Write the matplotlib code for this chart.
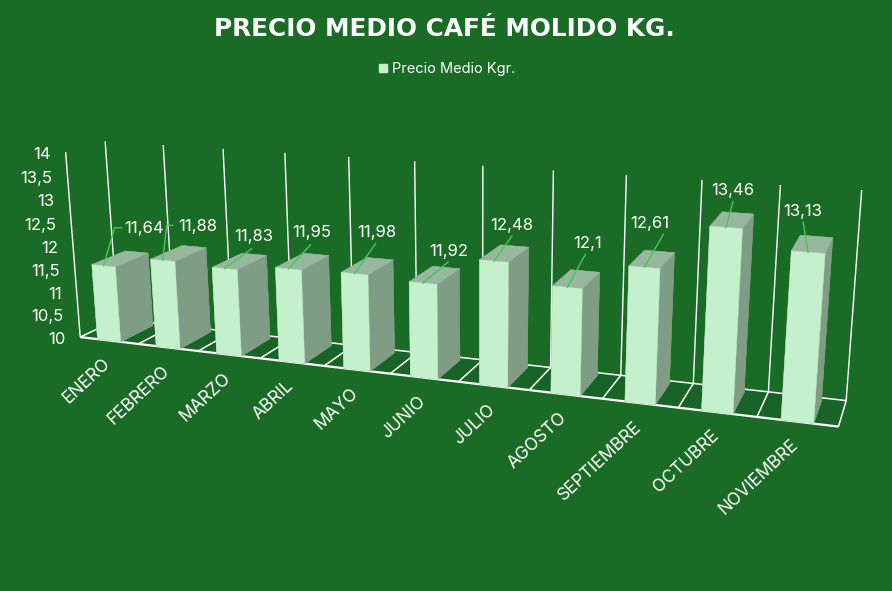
import numpy as np
import matplotlib
matplotlib.use("Agg")
import matplotlib.pyplot as plt
from matplotlib.transforms import Affine2D
from matplotlib.lines import Line2D
from matplotlib.patches import Rectangle
from mpl_toolkits.mplot3d.art3d import Line3DCollection

months = ["ENERO", "FEBRERO", "MARZO", "ABRIL", "MAYO", "JUNIO", "JULIO",
          "AGOSTO", "SEPTIEMBRE", "OCTUBRE", "NOVIEMBRE"]
prices = [11.64, 11.88, 11.83, 11.95, 11.98, 11.92, 12.48, 12.1, 12.61, 13.46, 13.13]
price_labels = ["11,64", "11,88", "11,83", "11,95", "11,98", "11,92", "12,48", "12,1", "12,61", "13,46", "13,13"]
z_ticks = [10, 10.5, 11, 11.5, 12, 12.5, 13, 13.5, 14]
z_tick_labels = ["10", "10,5", "11", "11,5", "12", "12,5", "13", "13,5", "14"]

# Leader-line end offsets from bar top (pixels) and elbow-tail lengths
leader_dx = [11, 4, 27, 22, 21, 25, 18, 18, 19, 7, -5]
leader_dy = [-38, -35, -20, -24, -30, -21, -25, -33, -33, -26, -30]
tail = [7, 6, 0, 0, 0, 0, 0, 0, 0, 0, 0]
label_dx = [30, 31, 2, 1, 1, 1, 0, 2, -14, 0, 0]
label_dy = [1, 1, -12, -12, -11, -11, -11, -11, -11, -11, -11]

BG = "#1A6B25"
FLOOR = "#176426"
FRONT = "#C4F0CB"
TOP = "#97B89E"
SIDE = "#7F9C84"
LEADER = "#46C85A"
FONT = "Inter"
W, H = 892, 591

# Camera calibration: scene (category, depth, price) <-> image pixel
calib = [
    (0, 0, 10, 79, 337.5), (11, 0, 10, 838.7, 427), (11, 1, 10, 846, 400.7),
    (0, 0, 14, 65.7, 152), (0, 1, 14, 105, 141.7), (11, 1, 14, 862, 190),
    (1, 1, 14, 163.3, 145), (2, 1, 14, 223, 149), (3, 1, 14, 285, 152.7),
    (9, 1, 14, 702, 180), (10, 1, 14, 780, 185),
    (9, 1, 10, 693, 383), (10, 1, 10, 769, 392),
    (1, 0, 10, 140, 343.5), (2, 0, 10, 198, 351),
    (9, 0, 10, 678, 407.7), (10, 0, 10, 756.7, 416.7),
]
A = []
for X, Y, Z, u, v in calib:
    A.append([X, Y, Z, 1, 0, 0, 0, 0, -u*X, -u*Y, -u*Z, -u])
    A.append([0, 0, 0, 0, X, Y, Z, 1, -v*X, -v*Y, -v*Z, -v])
P = np.linalg.svd(np.array(A))[2][-1].reshape(3, 4)
P = P / P[2, 3]
M_cam = np.array([P[0], P[1], [0, 0.5, -0.01, 0.3], P[2]])


def project(x, y, z):
    q = P @ np.array([x, y, z, 1.0])
    return q[0] / q[2], q[1] / q[2]


fig = plt.figure(figsize=(W / 100, H / 100), dpi=100, facecolor=BG)
ax = fig.add_axes([0, 0, 1, 1], projection="3d", computed_zorder=False)
ax.set_axis_off()
ax.patch.set_alpha(0)


def get_proj():
    ax.viewLim.intervalx = (0, W)
    ax.viewLim.intervaly = (H, 0)
    return M_cam


ax.get_proj = get_proj
ax.apply_aspect = lambda *a, **k: None

pix = Affine2D().scale(1, -1).translate(0, H)

n = len(months)
ax.plot_surface(np.array([[0, n], [0, n]]), np.array([[0, 0], [1, 1]]), np.full((2, 2), 10.0),
                color=FLOOR, shade=False, linewidth=0, zorder=1)

floor_lines = [[(i, 0, 10), (i, 1, 10)] for i in range(n + 1)] + [[(0, 1, 10), (n, 1, 10)]]
wall_lines = [[(i, 1, 10), (i, 1, 14)] for i in range(n + 1)] + [[(0, 0, 10), (0, 0, 14)]]
front_line = [[(0, 0, 10), (n, 0, 10)]]
ax.add_collection3d(Line3DCollection(floor_lines, colors="white", linewidths=1.1, zorder=2))
ax.add_collection3d(Line3DCollection(wall_lines, colors="white", linewidths=1.0, zorder=2))
ax.add_collection3d(Line3DCollection(front_line, colors="white", linewidths=1.6, zorder=2))

# order in bar3d: bottom, top, front(-y), back(+y), left(-x), right(+x)
face_colors = [TOP, TOP, FRONT, SIDE, SIDE, SIDE]
for i, p in enumerate(prices):
    ax.bar3d(i + 0.3, 0.0, 10, 0.4, 0.88, p - 10, color=face_colors, shade=False,
             edgecolor=face_colors, linewidth=0.3, zorder=3 + i)

for i, (p, lab) in enumerate(zip(prices, price_labels)):
    x0, y0 = project(i + 0.5, 0, p)
    x1, y1 = x0 + leader_dx[i], y0 + leader_dy[i]
    xs, ys = [x0, x1], [y0, y1]
    if tail[i]:
        xs.append(x1 + tail[i]); ys.append(y1)
    fig.add_artist(Line2D(xs, ys, color=LEADER, lw=1.0, transform=pix, zorder=30))
    fig.text(x1 + label_dx[i], y1 + label_dy[i], lab, color="white", fontsize=12, family=FONT,
             ha="center", va="center", transform=pix, zorder=31)

for t, lab in zip(z_ticks, z_tick_labels):
    x, y = project(0, 0, t)
    fig.text(x - 15, y + 2, lab, color="white", fontsize=12, family=FONT,
             ha="right", va="center", transform=pix)

for i, m in enumerate(months):
    x, y = project(i + 0.5, 0, 10)
    fig.text(x - 1, y + 21, m, color="white", fontsize=12.5, family=FONT, rotation=43,
             rotation_mode="anchor", ha="right", va="center", transform=pix)

fig.text(444.5, 29, "PRECIO MEDIO CAFÉ MOLIDO KG.", color="white", fontsize=17.8, weight="bold",
         family="DejaVu Sans", ha="center", va="center", transform=pix)
fig.add_artist(Rectangle((379, 64), 8, 8, color=FRONT, transform=pix))
fig.text(392, 69, "Precio Medio Kgr.", color="white", fontsize=10.5, family=FONT,
         ha="left", va="center", transform=pix)

fig.savefig("out.png", dpi=100, facecolor=BG)
